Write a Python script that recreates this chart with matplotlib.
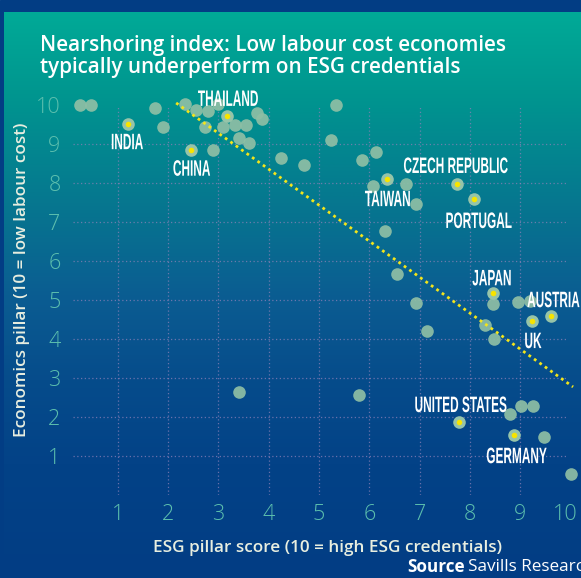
import numpy as np
from matplotlib import pyplot as plt
from matplotlib.colors import LinearSegmentedColormap
from matplotlib.patches import Rectangle, PathPatch
from matplotlib.textpath import TextPath
from matplotlib.font_manager import FontProperties
from matplotlib.transforms import Affine2D, ScaledTranslation

# ESG pillar score (x) vs economics pillar (y)
esg = [0.25, 0.47, 1.74, 1.90, 2.34, 2.56, 2.79, 2.74, 2.89, 2.99, 3.10, 3.32,
       3.54, 3.76, 3.87, 3.41, 3.61, 4.24, 4.71, 5.33, 5.23, 6.13, 5.85, 6.08,
       6.73, 6.93, 6.32, 6.56, 6.93, 7.15, 8.45, 8.95, 9.20, 8.30, 8.48, 8.80,
       9.01, 9.25, 9.47, 10.0, 3.41, 5.80]
econ = [10.0, 10.0, 9.92, 9.44, 10.03, 9.88, 9.86, 9.45, 8.85, 10.03, 9.44, 9.49,
        9.49, 9.79, 9.64, 9.15, 9.03, 8.66, 8.47, 10.0, 9.10, 8.81, 8.60, 7.94,
        7.99, 7.46, 6.78, 5.67, 4.94, 4.22, 4.90, 4.95, 4.99, 4.36, 4.00, 2.08,
        2.29, 2.29, 1.49, 0.54, 2.65, 2.57]

# highlighted countries
countries = ["INDIA", "CHINA", "THAILAND", "TAIWAN", "CZECH REPUBLIC", "PORTUGAL",
             "JAPAN", "UK", "AUSTRIA", "UNITED STATES", "GERMANY"]
hl_esg = [1.20, 2.45, 3.18, 6.36, 7.74, 8.09, 8.45, 9.23, 9.61, 7.78, 8.88]
hl_econ = [9.53, 8.85, 9.73, 8.10, 7.99, 7.60, 5.18, 4.47, 4.60, 1.87, 1.55]
label_x = [1.19, 2.47, 3.19, 6.36, 7.72, 8.18, 8.43, 9.26, 9.66, 7.82, 8.93]
label_y = [9.08, 8.40, 10.19, 7.62, 8.47, 7.06, 5.59, 3.98, 5.03, 2.34, 1.03]

# trend line end points
trend_x = [2.16, 10.05]
trend_y = [10.06, 2.78]

ticks = [1, 2, 3, 4, 5, 6, 7, 8, 9, 10]

W, H = 581, 578
fig = plt.figure(figsize=(W / 100, H / 100), dpi=100)

# background: dark frame + teal-to-blue gradient panel
bg = fig.add_axes([0, 0, 1, 1])
bg.set_xlim(0, W)
bg.set_ylim(H, 0)
bg.axis("off")
cmap = LinearSegmentedColormap.from_list("bg", [
    (0.0, "#00aa97"), (0.15, "#00958f"), (0.33, "#06788f"),
    (0.5, "#0b5d92"), (0.65, "#064c8b"), (0.8, "#034287"), (1.0, "#023d84")])
grad = np.linspace(0, 1, 256).reshape(-1, 1)
bg.add_patch(Rectangle((0, 0), W, H, color="#023d84", zorder=0))
bg.imshow(grad, cmap=cmap, aspect="auto", extent=[4, W, H, 12], zorder=1)

ax = fig.add_axes([67.5 / W, 1 - 495.3 / H, 513.1 / W, 413.4 / H])
ax.set_xlim(0, 10.2)
ax.set_ylim(0, 10.6)
ax.patch.set_alpha(0)
for s in ax.spines.values():
    s.set_visible(False)

# dotted grid, limited to the data area
ax.hlines(ticks[:-1], 0.1, 9.93, colors="#8c80b8", linestyles=(0, (1, 2)), lw=0.9, alpha=0.75)
ax.vlines(ticks[:-1], 0.0, 10.0, colors="#8c80b8", linestyles=(0, (1, 2)), lw=0.9, alpha=0.75)

ax.plot(trend_x, trend_y, color="#f3e51b", lw=2.0, linestyle=(0, (1, 1.4)), zorder=4)

ax.scatter(esg, econ, s=82, color="#8fbfa5", alpha=0.92, linewidths=0, zorder=3)
ax.scatter(hl_esg, hl_econ, s=82, color="#96c4a9", linewidths=0, zorder=5)
ax.scatter(hl_esg, hl_econ, s=16, color="#f7e400", linewidths=0, zorder=6)

# condensed capitals for the country names (squeezed text paths)
label_font = FontProperties(family=["Liberation Sans", "DejaVu Sans"], weight="bold")
cap_px = 16
squeeze = 0.53


def condensed_label(x, y, s):
    tp = TextPath((0, 0), s, size=100, prop=label_font)
    bb = tp.get_extents()
    k = cap_px / 71.6
    tr = (Affine2D().translate(-(bb.x0 + bb.x1) / 2, -35.8).scale(k * squeeze, k)
          + ScaledTranslation(x, y, ax.transData))
    ax.add_patch(PathPatch(tp, transform=tr, facecolor="white", lw=0,
                           zorder=7, clip_on=False))


for name, lx, ly in zip(countries, label_x, label_y):
    condensed_label(lx, ly, name)

ax.set_xticks(ticks)
ax.set_yticks(ticks)
ax.tick_params(length=0, labelsize=15.5, labelcolor="#5cbfae", pad=5)
for lab in ax.get_xticklabels() + ax.get_yticklabels():
    lab.set_family(["Open Sans", "DejaVu Sans"])
    lab.set_fontweight("light")
ax.tick_params(axis="x", pad=6)
# the last x label sits a little left of its grid position so it stays inside
last = ax.get_xticklabels()[-1]
last.set_transform(last.get_transform() + Affine2D().translate(-5, 0))

font = ["Open Sans", "DejaVu Sans"]
ax.set_xlabel("ESG pillar score (10 = high ESG credentials)", color="#e8eee0",
              fontsize=12.3, fontweight="semibold", family=font)
ax.xaxis.set_label_coords(328 / W, 1 - 540 / H, transform=fig.transFigure)
ax.set_ylabel("Economics pillar (10 = low labour cost)", color="#e8eee0",
              fontsize=12.3, fontweight="semibold", family=font)
ax.yaxis.set_label_coords(30 / W, 1 - 280 / H, transform=fig.transFigure)

fig.text(40 / W, 1 - 45 / H, "Nearshoring index: Low labour cost economies",
         color="white", fontsize=14.9, fontweight="semibold", va="center", family=font)
fig.text(40 / W, 1 - 68 / H, "typically underperform on ESG credentials",
         color="white", fontsize=14.9, fontweight="semibold", va="center", family=font)

fig.text(407 / W, 1 - 567 / H, "Source", color="white", fontsize=12.3,
         fontweight="bold", va="center", family=font)
fig.text(468 / W, 1 - 567 / H, "Savills Research", color="white", fontsize=12.3,
         va="center", family=font)

plt.savefig("out.png", dpi=100)
